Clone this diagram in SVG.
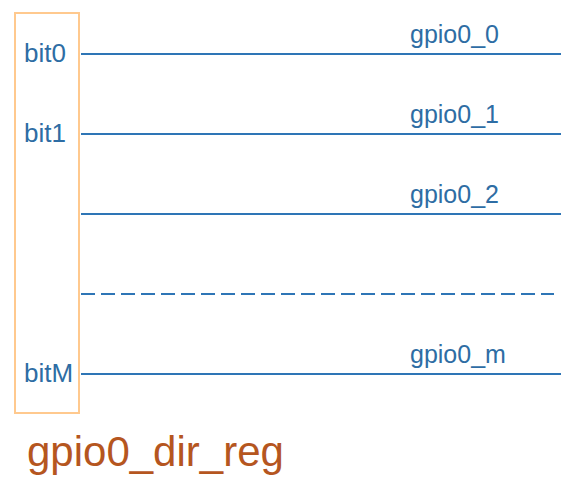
<svg xmlns="http://www.w3.org/2000/svg" width="584" height="481" viewBox="0 0 584 481">
<style>
.lbl{font-family:"Liberation Sans",Arial,sans-serif;font-size:25px;fill:#2E6DA4}
.bit{font-size:26px}
.ln{stroke:#2E75B6;stroke-width:2;fill:none}
.title{font-family:"Liberation Sans",Arial,sans-serif;font-size:42px;fill:#B5561F}
</style>
<rect width="584" height="481" fill="#FFFFFF"/>
<g id="reg">
<rect x="15" y="13" width="64" height="400" fill="none" stroke="#FFC98E" stroke-width="2"/>
<text class="lbl bit" x="24" y="62">bit0</text>
<text class="lbl bit" x="24" y="142">bit1</text>
<text class="lbl bit" x="24" y="382">bitM</text>
</g>
<g id="connectors">
<line class="ln" x1="81" y1="54" x2="561" y2="54"/>
<line class="ln" x1="81" y1="134" x2="561" y2="134"/>
<line class="ln" x1="81" y1="214" x2="561" y2="214"/>
<line class="ln" x1="81" y1="294" x2="554" y2="294" stroke-dasharray="14 6"/>
<line class="ln" x1="81" y1="374" x2="561" y2="374"/>
</g>
<g id="labels">
<text class="lbl" x="410" y="43">gpio0_0</text>
<text class="lbl" x="410" y="123">gpio0_1</text>
<text class="lbl" x="410" y="203">gpio0_2</text>
<text class="lbl" x="410" y="363">gpio0_m</text>
</g>
<g id="title">
<text class="title" x="27" y="466">gpio0_dir_reg</text>
</g>
</svg>
